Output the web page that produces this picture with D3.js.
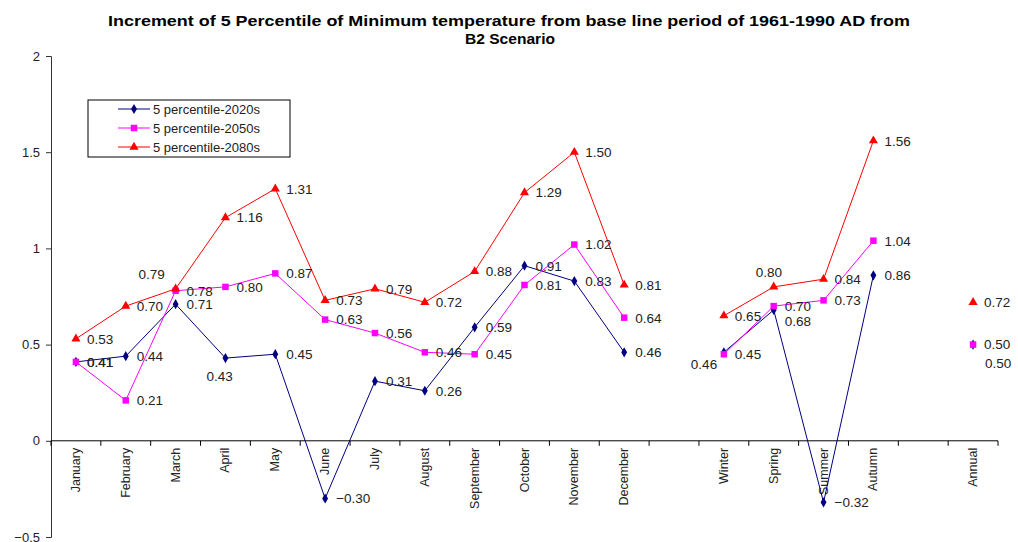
<!DOCTYPE html>
<html>
<head>
<meta charset="utf-8">
<script src="https://cdn.jsdelivr.net/npm/d3@7"></script>
<style>
  body { margin: 0; background: #fff; }
  svg { font-family: "Liberation Sans", Arial, sans-serif; }
</style>
</head>
<body>
<div class="svg-container"></div>
<script>
// categories, null = empty slot on the axis
const categories = ['January', 'February', 'March', 'April', 'May', 'June', 'July', 'August',
  'September', 'October', 'November', 'December', null, 'Winter', 'Spring', 'Summer', 'Autumn', null, 'Annual'];

const values2020s = [0.41, 0.44, 0.71, 0.43, 0.45, -0.30, 0.31, 0.26, 0.59, 0.91, 0.83, 0.46, null,
  0.46, 0.68, -0.32, 0.86, null, 0.50];
const values2050s = [0.41, 0.21, 0.78, 0.80, 0.87, 0.63, 0.56, 0.46, 0.45, 0.81, 1.02, 0.64, null,
  0.45, 0.70, 0.73, 1.04, null, 0.50];
const values2080s = [0.53, 0.70, 0.79, 1.16, 1.31, 0.73, 0.79, 0.72, 0.88, 1.29, 1.50, 0.81, null,
  0.65, 0.80, 0.84, 1.56, null, 0.72];

const seriesNames = ['5 percentile-2020s', '5 percentile-2050s', '5 percentile-2080s'];
const yTicks = [-0.5, 0, 0.5, 1, 1.5, 2];

const series = [
  { name: seriesNames[0], values: values2020s, color: '#000080', symbol: d3.symbolDiamond, size: 30 },
  { name: seriesNames[1], values: values2050s, color: '#ff00ff', symbol: d3.symbolSquare, size: 42 },
  { name: seriesNames[2], values: values2080s, color: '#ff0000', symbol: d3.symbolTriangle, size: 36 },
];

// hand-moved data labels (series index, category index) -> [dx, dy]
const labelNudge = {
  '2-2': [-37, -15],
  '0-3': [-19, 18],
  '2-14': [-18, -15],
  '0-13': [-33, 12],
  '0-14': [11, 11],
  '0-18': [12, 19],
};

const width = 1018;
const height = 542;
const margin = { top: 56, right: 20, bottom: 5, left: 51 };

const svg = d3.select('.svg-container')
  .append('svg')
  .attr('width', width)
  .attr('height', height);

const xScale = d3.scaleBand()
  .domain(d3.range(categories.length))
  .range([margin.left, 998]);

const yScale = d3.scaleLinear()
  .domain([-0.5, 2])
  .range([537, margin.top]);

// title (stretched to the width of the original)
svg.append('text')
  .attr('x', 509)
  .attr('y', 26)
  .attr('text-anchor', 'middle')
  .attr('textLength', 802)
  .attr('lengthAdjust', 'spacingAndGlyphs')
  .style('font-weight', 'bold')
  .style('font-size', '15.5px')
  .text('Increment of 5 Percentile of Minimum temperature from base line period of 1961-1990 AD from');

svg.append('text')
  .attr('x', 510)
  .attr('y', 44)
  .attr('text-anchor', 'middle')
  .attr('textLength', 90)
  .attr('lengthAdjust', 'spacingAndGlyphs')
  .style('font-weight', 'bold')
  .style('font-size', '15.5px')
  .text('B2 Scenario');

// y axis
const yAxis = d3.axisLeft(yScale)
  .tickValues(yTicks)
  .tickFormat(d3.format('~g'))
  .tickSize(5)
  .tickPadding(6);

const gy = svg.append('g')
  .attr('id', 'y-axis')
  .attr('transform', `translate(${margin.left}, 0)`)
  .call(yAxis);
gy.selectAll('text').style('font-size', '13px').attr('fill', '#222').style('font-family', 'inherit');
gy.select('.domain').attr('stroke', '#333');
gy.selectAll('line').attr('stroke', '#333');

// x axis at y = 0, ticks at band edges
const gx = svg.append('g')
  .attr('id', 'x-axis')
  .attr('transform', `translate(0, ${yScale(0)})`);

gx.append('line')
  .attr('x1', margin.left)
  .attr('x2', 998)
  .attr('stroke', '#000');

gx.selectAll('.tick')
  .data(d3.range(categories.length + 1))
  .join('line')
  .attr('class', 'tick')
  .attr('x1', (i) => margin.left + i * xScale.step())
  .attr('x2', (i) => margin.left + i * xScale.step())
  .attr('y1', 0)
  .attr('y2', 5)
  .attr('stroke', '#000');

gx.selectAll('.cat')
  .data(categories.map((c, i) => ({ c, i })).filter((d) => d.c))
  .join('text')
  .attr('class', 'cat')
  .attr('transform', (d) => `translate(${xScale(d.i) + xScale.bandwidth() / 2 + 4}, 7) rotate(-90)`)
  .attr('text-anchor', 'end')
  .style('font-size', '12.5px')
  .attr('fill', '#222')
  .text((d) => d.c);

// lines
const line = d3.line()
  .defined((d) => d.v != null)
  .x((d) => xScale(d.i) + xScale.bandwidth() / 2)
  .y((d) => yScale(d.v));

series.forEach((s) => {
  const pts = s.values.map((v, i) => ({ v, i }));
  svg.append('path')
    .datum(pts)
    .attr('fill', 'none')
    .attr('stroke', s.color)
    .attr('stroke-width', 1)
    .attr('d', line);

  svg.append('g')
    .selectAll('path')
    .data(pts.filter((d) => d.v != null))
    .join('path')
    .attr('transform', (d) => `translate(${xScale(d.i) + xScale.bandwidth() / 2}, ${yScale(d.v)})`)
    .attr('d', d3.symbol(s.symbol, s.size))
    .attr('fill', s.color);
});

// data labels on top
series.forEach((s, si) => {
  svg.append('g')
    .selectAll('text')
    .data(s.values.map((v, i) => ({ v, i })).filter((d) => d.v != null))
    .join('text')
    .attr('x', (d) => xScale(d.i) + xScale.bandwidth() / 2 + (labelNudge[`${si}-${d.i}`] || [11, 0])[0])
    .attr('y', (d) => yScale(d.v) + (labelNudge[`${si}-${d.i}`] || [11, 0])[1])
    .attr('dy', '0.36em')
    .style('font-size', '13.5px')
    .attr('fill', '#222')
    .text((d) => d3.format('.2f')(d.v));
});

// legend
const legend = svg.append('g')
  .attr('transform', 'translate(88, 100)');

legend.append('rect')
  .attr('width', 202)
  .attr('height', 57)
  .attr('fill', '#fff')
  .attr('stroke', '#000');

series.forEach((s, i) => {
  const ly = 9 + i * 19;
  legend.append('line')
    .attr('x1', 30).attr('x2', 62)
    .attr('y1', ly).attr('y2', ly)
    .attr('stroke', s.color);
  legend.append('path')
    .attr('transform', `translate(46, ${ly})`)
    .attr('d', d3.symbol(s.symbol, s.size))
    .attr('fill', s.color);
  legend.append('text')
    .attr('x', 65)
    .attr('y', ly)
    .attr('dy', '0.36em')
    .style('font-size', '13px')
    .attr('fill', '#222')
    .text(s.name);
});
</script>
</body>
</html>
